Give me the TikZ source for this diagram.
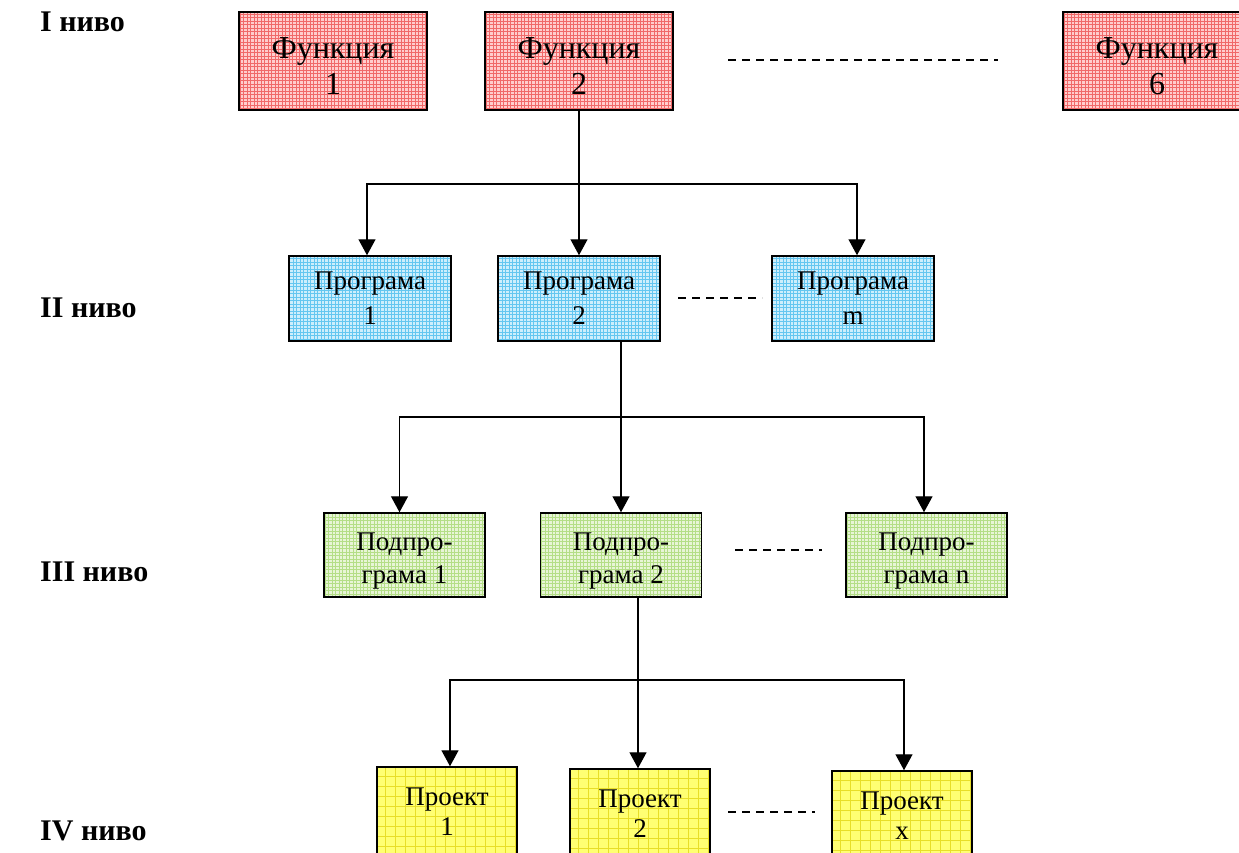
\documentclass[tikz,border=0pt]{standalone}
\usepackage{fontspec}
\setmainfont{Liberation Serif}
\usetikzlibrary{arrows.meta}
\definecolor{redbase}{RGB}{255,205,205}
\definecolor{redgrid}{RGB}{240,105,105}
\definecolor{bluebase}{RGB}{205,238,252}
\definecolor{bluegrid}{RGB}{100,198,240}
\definecolor{greenbase}{RGB}{232,245,215}
\definecolor{greengrid}{RGB}{180,222,135}
\definecolor{yellowbase}{RGB}{255,255,115}
\definecolor{yellowgrid}{RGB}{232,222,40}
\newcommand{\topstrut}[1]{\rule{0pt}{#1}}
\begin{document}
\begin{tikzpicture}[x=1pt,y=-1pt,
  box/.style={draw=black, line width=1.5pt, inner sep=0pt, align=center},
  gridbox/.style n args={3}{fill=#1, path picture={\draw[draw=#2,line width=0.6pt,step=#3] (path picture bounding box.south west) grid (path picture bounding box.north east);}},
  funcbox/.style={box, gridbox={redbase}{redgrid}{3.5pt}, minimum width=188pt, minimum height=98pt, font=\fontsize{32}{36}\selectfont},
  progbox/.style={box, gridbox={bluebase}{bluegrid}{3.5pt}, minimum width=162pt, minimum height=85pt, font=\fontsize{27}{35}\selectfont},
  subbox/.style={box, gridbox={greenbase}{greengrid}{3.5pt}, minimum width=161pt, minimum height=84pt, font=\fontsize{27}{33}\selectfont},
  projbox/.style={box, gridbox={yellowbase}{yellowgrid}{10pt}, minimum width=140pt, minimum height=90pt, font=\fontsize{27}{30}\selectfont},
  lvl/.style={anchor=west, inner sep=0pt, font=\bfseries\fontsize{30}{36}\selectfont},
  conn/.style={draw=black, line width=1.4pt},
  arr/.style={conn, -{Triangle[width=17pt,length=16pt]}},
  dots/.style={draw=black, line width=1.2pt, dash pattern=on 8pt off 6pt}
]
\useasboundingbox (0,0) rectangle (1239,852);
\clip (0,0) rectangle (1239,852);

% level labels
\node[lvl] (l1) at (40,22) {I ниво};
\node[lvl] (l2) at (40,308) {II ниво};
\node[lvl] (l3) at (40,572) {III ниво};
\node[lvl] (l4) at (40,831) {IV ниво};

% level I
\node[funcbox] (f1) at (333,61) {\topstrut{31pt}Функция\\1};
\node[funcbox] (f2) at (579,61) {\topstrut{31pt}Функция\\2};
\node[funcbox] (f6) at (1157,61) {\topstrut{31pt}Функция\\6};
\coordinate (d1a) at (728,60);
\coordinate (d1b) at (998,60);
\draw[dots] (d1a) -- (d1b);

% level II
\node[progbox] (p1) at (370,298.5) {Програма\\1};
\node[progbox] (p2) at (579,298.5) {Програма\\2};
\node[progbox] (pm) at (853,298.5) {Програма\\m};
\coordinate (d2a) at (678,298);
\coordinate (d2b) at (762,298);
\draw[dots] (d2a) -- (d2b);

% level III
\node[subbox] (s1) at (404.5,555) {\topstrut{30pt}Подпро-\\грама 1};
\node[subbox] (s2) at (621,555) {\topstrut{30pt}Подпро-\\грама 2};
\node[subbox] (sn) at (926.5,555) {\topstrut{30pt}Подпро-\\грама n};
\coordinate (d3a) at (735,550);
\coordinate (d3b) at (822,550);
\draw[dots] (d3a) -- (d3b);

% level IV
\node[projbox] (q1) at (447,812) {Проект\\1};
\node[projbox] (q2) at (640,814) {Проект\\2};
\node[projbox] (qx) at (902,816) {Проект\\x};
\coordinate (d4a) at (728,812);
\coordinate (d4b) at (815,812);
\draw[dots] (d4a) -- (d4b);

% connectors I -> II
\coordinate (h2) at (579,184);
\draw[conn] (f2.south) -- (h2);
\draw[arr] (h2) -| ([xshift=-3pt]p1.north);
\draw[arr] (h2) -- (p2.north);
\draw[arr] (h2) -| ([xshift=4pt]pm.north);

% connectors II -> III
\coordinate (h3) at (621,417);
\draw[conn] (p2.south -| h3) -- (h3);
\draw[arr] (h3) -| ([xshift=-5pt]s1.north);
\draw[arr] (h3) -- (s2.north);
\draw[arr] (h3) -| ([xshift=-2.5pt]sn.north);

% connectors III -> IV
\coordinate (h4) at (638,680);
\draw[conn] (s2.south -| h4) -- (h4);
\draw[arr] (h4) -| ([xshift=3pt]q1.north);
\draw[arr] (h4) -- (q2.north -| h4);
\draw[arr] (h4) -| ([xshift=2pt]qx.north);
\end{tikzpicture}
\end{document}
